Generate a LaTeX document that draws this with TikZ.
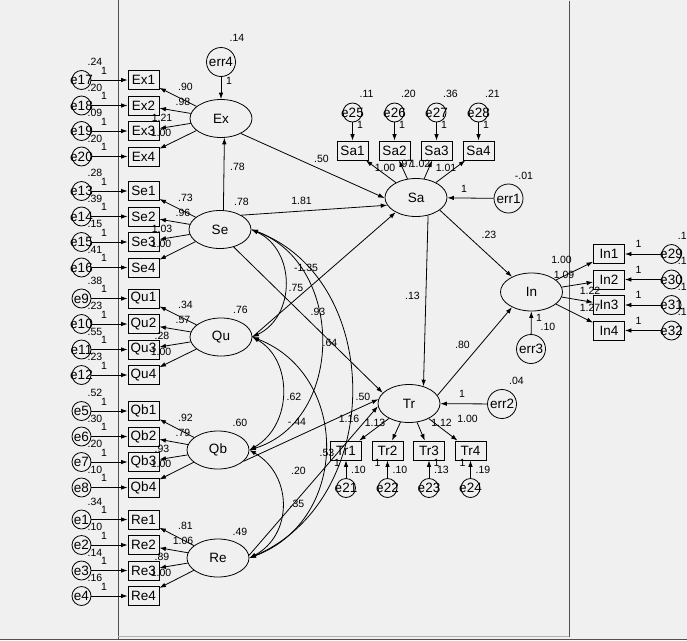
\documentclass[tikz,border=0pt]{standalone}
\usepackage{fontspec}
\setmainfont{Liberation Sans}
\usetikzlibrary{shapes,arrows.meta,positioning}
\definecolor{winbg}{HTML}{F0F0F0}
\definecolor{winln}{HTML}{505050}

\begin{document}
\begin{tikzpicture}[x=1pt,y=-1pt,line width=0.8pt,>={Latex[length=6.5pt,width=4.5pt]},
	obs/.style={rectangle,draw,minimum width=31pt,minimum height=19pt,inner sep=0pt,font=\fontsize{13.5}{14}\selectfont},
	lat/.style={ellipse,draw,minimum width=62pt,minimum height=38pt,inner sep=0pt,font=\fontsize{13.5}{14}\selectfont},
	err/.style={circle,draw,minimum size=19pt,inner sep=0pt},
	dist/.style={circle,draw,minimum size=29pt,inner sep=0pt},
	num/.style={inner sep=0pt,font=\fontsize{10.5}{11}\selectfont},
	every label/.style={inner sep=0pt,font=\fontsize{13.5}{14}\selectfont}]
	\useasboundingbox (0,0) rectangle (687,640);
	\fill[winbg] (0,0) rectangle (687,640);
	\draw[winln] (118,0) -- (118,640);
	\draw[winln] (569,1) -- (569,636.5);
	\draw[gray!60] (118,636.5) -- (569,636.5);
	\draw[winln] (0,639.5) -- (687,639.5);

	% left indicators
	\foreach \bx/\y/\er/\vr in {Ex1/80/e17/.24,Ex2/105.5/e18/.20,Ex3/131/e19/.09,Ex4/156.5/e20/.20,
		Se1/191/e13/.28,Se2/216.5/e14/.39,Se3/242/e15/.15,Se4/267.5/e16/.41,
		Qu1/298.5/e9/.38,Qu2/324/e10/.23,Qu3/349.5/e11/.55,Qu4/375/e12/.23,
		Qb1/411/e5/.52,Qb2/436.5/e6/.30,Qb3/462/e7/.20,Qb4/487.5/e8/.10,
		Re1/519.5/e1/.34,Re2/545/e2/.10,Re3/570.5/e3/.14,Re4/596/e4/.16}{
		\node[obs] (\bx) at (143.5,\y) {\bx};
		\node[err,label={center:\er}] (\er) at (81.5,\y) {};
		\draw[->] (\er) -- (\bx);
		\node[num] (v\er) at (95,\y-18) {\vr};
		\node[num] (o\er) at (104,\y-9.5) {1};
	}

	\node[lat] (Ex) at (221,118.5) {Ex};
	\node[lat] (Se) at (220,229.5) {Se};
	\node[lat] (Qu) at (221,337) {Qu};
	\node[lat] (Qb) at (218,450) {Qb};
	\node[lat] (Re) at (218,558) {Re};
	\foreach \l in {Ex,Se,Qu,Qb,Re}
		\foreach \i in {1,...,4}
			\draw[->] (\l) -- (\l\i);
	\foreach \l/\y/\wA/\wB/\wC/\wD in {Ex/80/.90/.98/1.21/1.00,Se/191/.73/.96/1.03/1.00,
		Qu/298.5/.34/.57/.28/1.00,Qb/411/.92/.79/.93/1.00,Re/519.5/.81/1.06/.89/1.00}{
		\node[num] (w\l1) at (185.5,\y+6.5) {\wA};
		\node[num] (w\l2) at (183,\y+21.5) {\wB};
		\node[num] (w\l3) at (162,\y+37.5) {\wC};
		\node[num] (w\l4) at (161,\y+53) {\wD};
	}
	\node[num] (vSe) at (241.5,202) {.78};
	\node[num] (vQu) at (240.5,310) {.76};
	\node[num] (vQb) at (240,423) {.60};
	\node[num] (vRe) at (240,531.5) {.49};

	% Sa
	\node[lat] (Sa) at (416,197.5) {Sa};
	\foreach \bx/\x/\er/\vr in {Sa1/352.5/e25/.11,Sa2/394.5/e26/.20,Sa3/436.5/e27/.36,Sa4/478.5/e28/.21}{
		\node[obs] (\bx) at (\x,150.5) {\bx};
		\node[err,label={center:\er}] (\er) at (\x,112.5) {};
		\draw[->] (\er) -- (\bx);
		\draw[->] (Sa) -- (\bx);
		\node[num] (v\er) at (\x+14,94) {\vr};
		\node[num] (o\er) at (\x+7.5,125) {1};
	}
	\node[num] (wSa1) at (385,167.5) {1.00};
	\node[num] (wSa2) at (406,163.5) {.97};
	\node[num] (wSa3) at (420,163.5) {1.02};
	\node[num] (wSa4) at (446,167.5) {1.01};

	% In
	\node[lat] (In) at (531.5,292) {In};
	\foreach \bx/\y/\er in {In1/254/e29,In2/279.5/e30,In3/305/e31,In4/330.5/e32}{
		\node[obs] (\bx) at (609,\y) {\bx};
		\node[err,label={center:\er}] (\er) at (671.5,\y) {};
		\draw[->] (\er) -- (\bx);
		\draw[->] (In) -- (\bx);
		\node[num] (o\er) at (638.5,\y-10) {1};
		\node[num,anchor=west] (v\er) at (677.5,\y-18.5) {.1};
	}
	\node[num] (wIn1) at (561.5,260) {1.00};
	\node[num] (wIn2) at (564,275) {1.09};
	\node[num] (wIn3) at (590,291) {1.22};
	\node[num] (wIn4) at (590,307.5) {1.27};

	% Tr
	\node[lat] (Tr) at (409,403.5) {Tr};
	\foreach \bx/\x/\er/\vr/\dx in {Tr1/346/e21/.10/-9,Tr2/387.5/e22/.10/-10,Tr3/429/e23/.13/7.5,Tr4/470.5/e24/.19/-8}{
		\node[obs] (\bx) at (\x,450.5) {\bx};
		\node[err,label={center:\er}] (\er) at (\x,488) {};
		\draw[->] (\er) -- (\bx);
		\draw[->] (Tr) -- (\bx);
		\node[num] (v\er) at (\x+12.5,470) {\vr};
		\node[num] (o\er) at (\x+\dx,463) {1};
	}
	\node[num] (wTr1) at (349,418.5) {1.16};
	\node[num] (wTr2) at (375,423) {1.13};
	\node[num] (wTr3) at (441.5,423) {1.12};
	\node[num] (wTr4) at (467.5,418.5) {1.00};

	% disturbances
	\node[dist,label={center:err1}] (err1) at (508.5,198.5) {};
	\node[dist,label={center:err2}] (err2) at (502,404) {};
	\node[dist,label={center:err3}] (err3) at (531,349) {};
	\node[dist,label={center:err4}] (err4) at (221,62) {};
	\draw[->] (err1) -- (Sa);
	\draw[->] (err2) -- (Tr);
	\draw[->] (err3) -- (In);
	\draw[->] (err4) -- (Ex);
	\node[num] (verr1) at (524,176) {-.01};
	\node[num] (oerr1) at (464,189) {1};
	\node[num] (verr2) at (516.5,380.5) {.04};
	\node[num] (oerr2) at (462,394) {1};
	\node[num] (verr3) at (548,326.5) {.10};
	\node[num] (oerr3) at (539,317.5) {1};
	\node[num] (verr4) at (237,38) {.14};
	\node[num] (oerr4) at (229,81) {1};

	% structural paths
	\draw[->] (Se.80) -- (Ex.-80);
	\draw[->] (Ex.-37) -- (Sa.181);
	\draw[->] (Se.34) -- (Sa.195);
	\draw[->] (Qu.east) -- (Sa.216);
	\draw[->] (Se.-52) -- (Tr.158);
	\draw[->] (Qb.-24) -- (Tr.172);
	\draw[->] (Re.5) -- (Tr.185);
	\draw[->] (Sa.-56) -- (Tr.50);
	\draw[->] (Sa.-28) -- (In.142);
	\draw[->] (Tr.16) -- (In.218);
	\node[num] (pSeEx) at (237.5,167) {.78};
	\node[num] (pExSa) at (321.5,158.5) {.50};
	\node[num] (pSeSa) at (301.5,201) {1.81};
	\node[num] (pSaTr) at (412.5,295.5) {.13};
	\node[num] (pSaIn) at (489,234.5) {.23};
	\node[num] (pTrIn) at (462.5,344.5) {.80};

	% covariances
	\draw[<->] (Se.east) .. controls (296,250) and (296,316) .. (Qu.east);
	\draw[<->] (Se.east) .. controls (345,265) and (345,420) .. (Qb.east);
	\draw[<->] (Se.east) .. controls (385,280) and (385,500) .. (Re.east);
	\draw[<->] (Qu.east) .. controls (293,360) and (293,425) .. (Qb.east);
	\draw[<->] (Qu.east) .. controls (350,375) and (350,520) .. (Re.east);
	\draw[<->] (Qb.east) .. controls (293,475) and (293,535) .. (Re.east);
	\node[num] (c1) at (296,288) {.75};
	\node[num] (c2) at (306,268) {-1.35};
	\node[num] (c3) at (318,312) {.93};
	\node[num] (c4) at (330,343) {.64};
	\node[num] (c5) at (294,397) {.62};
	\node[num] (c6) at (297,422) {-.44};
	\node[num] (c7) at (298.5,471) {.20};
	\node[num] (c8) at (297,504) {.35};
	\node[num] (c9) at (363,397) {.50};
	\node[num] (c10) at (327,453) {.53};
\end{tikzpicture}
\end{document}
